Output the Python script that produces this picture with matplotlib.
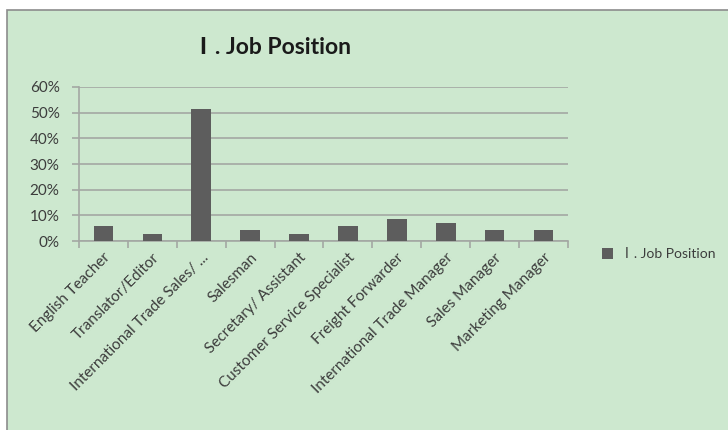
import matplotlib
matplotlib.use("Agg")
import matplotlib.pyplot as plt
from matplotlib.patches import Rectangle
from matplotlib.ticker import FuncFormatter, FixedLocator

categories = [
    "English Teacher", "Translator/Editor", "International Trade Sales/ ...",
    "Salesman", "Secretary/ Assistant", "Customer Service Specialist",
    "Freight Forwarder", "International Trade Manager", "Sales Manager",
    "Marketing Manager",
]
shares = [5.8, 2.9, 51.6, 4.3, 2.9, 5.8, 8.7, 7.2, 4.3, 4.3]
series_name = "Ⅰ. Job Position"
yticks = [0, 10, 20, 30, 40, 50, 60]

bg = "#cde8cf"
bar_col = "#5d5d5d"
grid_col = "#a3a8a3"
txt_col = "#3c3c3c"
fonts = ["Lato", "Noto Sans CJK SC", "DejaVu Sans"]
plt.rcParams["font.family"] = fonts

fig = plt.figure(figsize=(7.28, 4.3), dpi=100)
fig.patch.set_facecolor("white")

# chart frame (runs off the right and bottom edge)
fig.patches.append(Rectangle((7 / 728, -0.05), 1.0, 1 - 10 / 430 + 0.05,
                             transform=fig.transFigure, facecolor=bg,
                             edgecolor="#8c8c8c", linewidth=1.2, zorder=-1))

ax = fig.add_axes([79 / 728, 1 - 241 / 430, (568 - 79) / 728, (241 - 87) / 430])
ax.set_facecolor("none")

x = list(range(len(categories)))
bars = ax.bar(x, shares, width=0.4, color=bar_col, zorder=3, label=series_name)

ax.set_xlim(-0.5, len(categories) - 0.5)
ax.set_ylim(0, 60)
ax.set_yticks(yticks)
ax.yaxis.set_major_formatter(FuncFormatter(lambda v, p: f"{v:.0f}%"))
ax.yaxis.grid(True, color=grid_col, linewidth=1.2, zorder=1)
ax.set_axisbelow(True)

ax.set_xticks(x)
ax.set_xticklabels(categories, rotation=45, ha="right", rotation_mode="anchor",
                   fontsize=11, color=txt_col)
ax.tick_params(axis="x", which="major", length=0, pad=7)
ax.xaxis.set_minor_locator(FixedLocator([i - 0.5 for i in range(len(categories) + 1)]))
ax.tick_params(axis="x", which="minor", length=5, color=grid_col, width=1.2)
ax.tick_params(axis="y", length=5, color=grid_col, width=1.2, labelsize=11,
               labelcolor=txt_col, pad=9)

for s in ["top", "right"]:
    ax.spines[s].set_visible(False)
for s in ["left", "bottom"]:
    ax.spines[s].set_color(grid_col)
    ax.spines[s].set_linewidth(1.2)

fig.text(272 / 728, 1 - 48 / 430, series_name, ha="center", va="center",
         fontsize=16.5, fontweight="bold", color="#1a1a1a")

ax.legend(handles=[bars], loc="center left",
          bbox_to_anchor=(592 / 728, 1 - 254 / 430), bbox_transform=fig.transFigure,
          frameon=False, handlelength=0.8, handleheight=0.8, handletextpad=0.5,
          borderpad=0.2, prop={"size": 10, "family": fonts}, labelcolor=txt_col)

fig.savefig("out.png", dpi=100, facecolor=fig.get_facecolor())
